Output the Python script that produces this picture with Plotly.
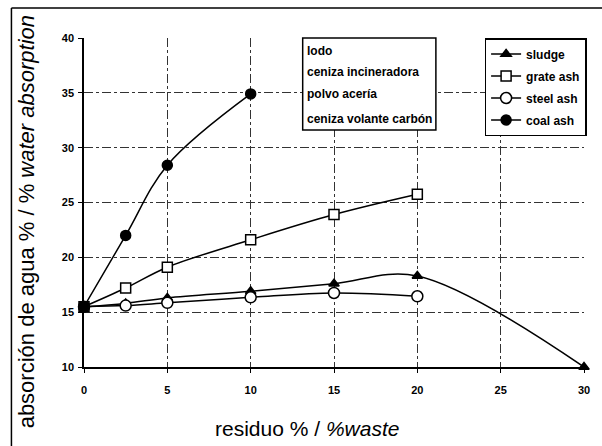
import plotly.graph_objects as go

# ---- data ----
sludge_x = [0, 2.5, 5, 10, 15, 20, 30]
sludge_y = [15.5, 15.8, 16.3, 16.9, 17.6, 18.3, 10.0]
grate_x = [0, 2.5, 5, 10, 15, 20]
grate_y = [15.5, 17.2, 19.1, 21.6, 23.9, 25.75]
steel_x = [0, 2.5, 5, 10, 15, 20]
steel_y = [15.5, 15.6, 15.85, 16.35, 16.75, 16.45]
coal_x = [0, 2.5, 5, 10]
coal_y = [15.5, 22.0, 28.4, 34.9]

box_lines = ["lodo", "ceniza incineradora", "polvo acería", "ceniza volante carbón"]

W, H = 602, 446
ML, MR, MT, MB = 84, 15, 38, 79
PW, PH = W - ML - MR, H - MT - MB


def px2x(px):
    return (px - ML) / PW


def py2y(py):
    return 1 - (py - MT) / PH


FONT = "Liberation Sans, Arial, sans-serif"

fig = go.Figure()

series = [
    ("sludge", sludge_x, sludge_y, "triangle-up", "black", 9),
    ("grate ash", grate_x, grate_y, "square", "white", 10),
    ("steel ash", steel_x, steel_y, "circle", "white", 11),
    ("coal ash", coal_x, coal_y, "circle", "black", 10),
]
for name, xs, ys, sym, fill, size in series:
    fig.add_trace(go.Scatter(
        x=xs, y=ys, name=name, mode="lines+markers",
        line=dict(color="black", width=1.5, shape="spline", smoothing=1),
        marker=dict(symbol=sym, size=size, color=fill,
                    line=dict(color="black", width=1.5)),
        cliponaxis=False, legendgroup=name,
    ))

axis_common = dict(
    showline=True, linecolor="black", linewidth=1.5,
    ticks="outside", ticklen=4, tickcolor="black",
    showgrid=True, gridcolor="#333", gridwidth=1, griddash="dashdot",
    zeroline=False, dtick=5,
    tickfont=dict(family=FONT, size=11, color="black", weight="bold"),
)

fig.update_layout(
    width=W, height=H,
    margin=dict(l=ML, r=MR, t=MT, b=MB),
    paper_bgcolor="white", plot_bgcolor="white",
    xaxis=dict(range=[0, 30], ticklabelstandoff=8, **axis_common),
    yaxis=dict(range=[10, 40], ticklabelstandoff=2, **axis_common),
    showlegend=True,
    legend=dict(
        x=px2x(487), y=1, xanchor="left", yanchor="top",
        bgcolor="white", bordercolor="black", borderwidth=1.5,
        font=dict(family=FONT, size=12, color="black", weight="bold"),
        traceorder="grouped", tracegroupgap=3,
        itemwidth=30, entrywidth=60,
    ),
)

# text box
fig.add_shape(type="rect", xref="paper", yref="paper",
              x0=px2x(304), x1=px2x(438), y0=py2y(130), y1=py2y(38),
              line=dict(color="black", width=1.5), fillcolor="white", layer="above")
for txt, yc in zip(box_lines, [50.5, 72, 94, 119]):
    fig.add_annotation(text=txt, xref="paper", yref="paper",
                       x=px2x(306), y=py2y(yc), xanchor="left", yanchor="middle",
                       showarrow=False,
                       font=dict(family=FONT, size=12, color="black", weight="bold"))

# axis titles
fig.add_annotation(text="absorción de agua % / % <i>water absorption</i>",
                   xref="paper", yref="paper", x=px2x(26), y=py2y(222),
                   xanchor="center", yanchor="middle", textangle=-90, showarrow=False,
                   font=dict(family=FONT, size=22, color="black"))
fig.add_annotation(text="residuo % / <i>%waste</i>",
                   xref="paper", yref="paper", x=px2x(308), y=py2y(428),
                   xanchor="center", yanchor="middle", showarrow=False,
                   font=dict(family=FONT, size=21, color="black"))

# outer frame (top and left edges visible)
fig.add_shape(type="line", xref="paper", yref="paper",
              x0=px2x(11), x1=px2x(610), y0=py2y(8), y1=py2y(8),
              line=dict(color="black", width=1.5))
fig.add_shape(type="line", xref="paper", yref="paper",
              x0=px2x(11), x1=px2x(11), y0=py2y(8), y1=py2y(450),
              line=dict(color="black", width=1.5))

fig.write_html("out.html", config={"displayModeBar": False},
               post_script="document.body.style.margin='0';document.body.style.overflow='hidden';")
